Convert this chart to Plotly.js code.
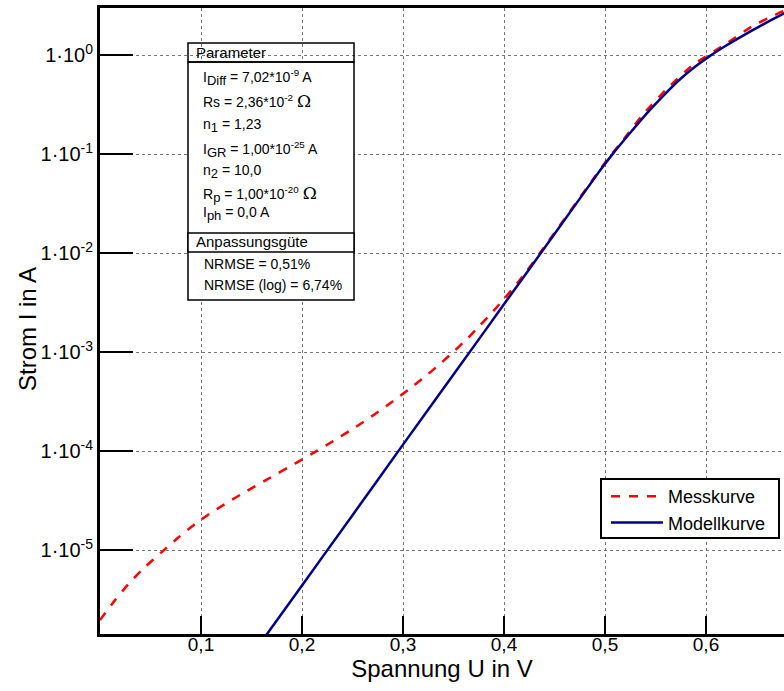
<!DOCTYPE html>
<html>
<head>
<meta charset="utf-8">
<script src="https://cdn.plot.ly/plotly-3.0.1.min.js"></script>
<style>html,body{margin:0;padding:0;background:#fff;}#chart{width:784px;height:691px;}</style>
</head>
<body>
<div id="chart"></div>
<script>
var messU = [0.000, 0.0149, 0.0277, 0.0416, 0.0614, 0.0772, 0.0941, 0.107, 0.127, 0.1436, 0.166, 0.193, 0.210, 0.233, 0.2525, 0.272, 0.292, 0.310, 0.325, 0.3386, 0.3515, 0.3644, 0.376, 0.389, 0.401, 0.413, 0.4228, 0.4356, 0.4485, 0.4624, 0.4752, 0.488, 0.502, 0.5178, 0.5376, 0.5624, 0.5871, 0.6208, 0.6465, 0.6733, 0.68];
var messI = [1.963e-6, 3.12e-6, 4.47e-6, 6.31e-6, 9.59e-6, 1.33e-5, 1.83e-5, 2.27e-5, 3.06e-5, 3.85e-5, 5.2e-5, 7.46e-5, 9.4e-5, 1.30e-4, 1.73e-4, 2.35e-4, 3.29e-4, 4.53e-4, 6.01e-4, 7.89e-4, 1.04e-3, 1.39e-3, 1.85e-3, 2.56e-3, 3.52e-3, 4.95e-3, 6.64e-3, 9.98e-3, 1.52e-2, 2.39e-2, 3.63e-2, 5.52e-2, 8.71e-2, 0.138, 0.251, 0.468, 0.794, 1.318, 1.97, 2.69, 2.88];
// Modellkurve (model)
var modU = [0.160, 0.200, 0.250, 0.300, 0.350, 0.403, 0.450, 0.4950, 0.5079, 0.5248, 0.5416, 0.5584, 0.5743, 0.5891, 0.6040, 0.6188, 0.6307, 0.6436, 0.6535, 0.6653, 0.6762, 0.68];
var modI = [1.19e-6, 4.39e-6, 2.25e-5, 1.16e-4, 5.92e-4, 3.35e-3, 1.556e-2, 0.0681, 0.101, 0.163, 0.259, 0.394, 0.569, 0.760, 0.980, 1.226, 1.450, 1.720, 1.96, 2.28, 2.60, 2.72];
var seriesNames = ["Messkurve", "Modellkurve"];
var xTickVals = [0.1, 0.2, 0.3, 0.4, 0.5, 0.6];
var xTickText = ["0,1", "0,2", "0,3", "0,4", "0,5", "0,6"];
var yTickVals = [1, 0.1, 0.01, 0.001, 0.0001, 0.00001];
var yTickText = ["1·10<sup>0</sup>", "1·10<sup>-1</sup>", "1·10<sup>-2</sup>", "1·10<sup>-3</sup>", "1·10<sup>-4</sup>", "1·10<sup>-5</sup>"];
var xTitle = "Spannung U in V", yTitle = "Strom I in A";
var OMEGA = "<span style=\"font-family:'DejaVu Serif',serif;font-size:17px\">Ω</span>";
function SUB(t){ return "<sub><span style=\"font-size:13px\">" + t + "</span></sub>"; }
var paramLines = [
  "I" + SUB("Diff") + " = 7,02*10<sup>-9</sup> A",
  "Rs = 2,36*10<sup>-2</sup> " + OMEGA,
  "n" + SUB("1") + " = 1,23",
  "I" + SUB("GR") + " = 1,00*10<sup>-25</sup> A",
  "n" + SUB("2") + " = 10,0",
  "R" + SUB("p") + " = 1,00*10<sup>-20</sup> " + OMEGA,
  "I" + SUB("ph") + " = 0,0 A"
];
var fitLines = ["NRMSE = 0,51%", "NRMSE (log) = 6,74%"];
var header1 = "Parameter", header2 = "Anpassungsgüte";

var L = 100, T = 8, W = 684, H = 626;
function px(x){ return (x - L) / W; }
function py(y){ return (T + H - y) / H; }

var FONT = "Liberation Sans, Arial, sans-serif";
var traces = [
  {x: messU, y: messI, name: seriesNames[0], mode: "lines", type: "scatter",
   line: {color: "#ff0000", width: 2.5, dash: "dash", shape: "spline", smoothing: 0.5}},
  {x: modU, y: modI, name: seriesNames[1], mode: "lines", type: "scatter",
   line: {color: "#00008b", width: 2.5, shape: "spline", smoothing: 0.5}}
];

var shapes = [
  {type: "rect", xref: "paper", yref: "paper", x0: px(188), x1: px(354), y0: py(300), y1: py(62), fillcolor: "#ffffff", line: {color: "#000", width: 1.5}, layer: "above"},
  {type: "rect", xref: "paper", yref: "paper", x0: px(188), x1: px(354), y0: py(62), y1: py(43), fillcolor: "rgba(0,0,0,0)", line: {color: "#000", width: 1.5}, layer: "above"},
  {type: "rect", xref: "paper", yref: "paper", x0: px(188), x1: px(354), y0: py(252), y1: py(233), fillcolor: "#ffffff", line: {color: "#000", width: 1.5}, layer: "above"},
  // legend frame
  {type: "rect", xref: "paper", yref: "paper", x0: px(601), x1: px(779), y0: py(538), y1: py(479), fillcolor: "#ffffff", line: {color: "#000", width: 2}, layer: "above"}
];
var annotations = [];
function ann(text, x, y, size){
  annotations.push({text: text, xref: "paper", yref: "paper", x: px(x), y: py(y), xanchor: "left", yanchor: "middle", showarrow: false, font: {family: FONT, size: size, color: "#000"}});
}
ann(header1, 194, 52.5, 15);
var paramY = [77, 101, 125, 149, 172, 194, 214];
for (var i = 0; i < paramLines.length; i++) ann(paramLines[i], 201, paramY[i], 14);
ann(header2, 194, 242, 15);
var fitY = [264, 285];
for (var j = 0; j < fitLines.length; j++) ann(fitLines[j], 202, fitY[j], 14);
// y axis title
annotations.push({text: yTitle, xref: "paper", yref: "paper", x: px(28), y: py(329), xanchor: "center", yanchor: "middle",
  textangle: -90, showarrow: false, font: {family: FONT, size: 24, color: "#000"}});

var layout = {
  width: 784, height: 691,
  margin: {l: L, r: 0, t: T, b: 691 - T - H, pad: 0},
  paper_bgcolor: "#fff", plot_bgcolor: "#fff",
  font: {family: FONT, color: "#000"},
  showlegend: true,
  legend: {x: px(606), y: py(478), xanchor: "left", yanchor: "top", bgcolor: "rgba(0,0,0,0)", borderwidth: 0,
           itemwidth: 52, font: {family: FONT, size: 18, color: "#000"}, tracegroupgap: 0},
  xaxis: {
    range: [0, W / 1010], tickvals: xTickVals, ticktext: xTickText,
    ticks: "inside", ticklen: 18, tickwidth: 2, tickcolor: "#000",
    showline: true, linecolor: "#000", linewidth: 3, mirror: true,
    showgrid: true, gridcolor: "#777", griddash: "dot", gridwidth: 1,
    zeroline: false, tickfont: {family: FONT, size: 19, color: "#000"}, ticklabelstandoff: -9,
    title: {text: xTitle, font: {family: FONT, size: 24, color: "#000"}, standoff: 6}
  },
  yaxis: {
    type: "log", range: [0.475 - H / 99, 0.475], tickvals: yTickVals, ticktext: yTickText,
    ticks: "inside", ticklen: 33, tickwidth: 2, tickcolor: "#000",
    showline: true, linecolor: "#000", linewidth: 3, mirror: false,
    showgrid: true, gridcolor: "#777", griddash: "dot", gridwidth: 1,
    zeroline: false, tickfont: {family: FONT, size: 20, color: "#000"}
  },
  shapes: shapes,
  annotations: annotations
};

Plotly.newPlot("chart", traces, layout, {staticPlot: true, displayModeBar: false});
</script>
</body>
</html>
